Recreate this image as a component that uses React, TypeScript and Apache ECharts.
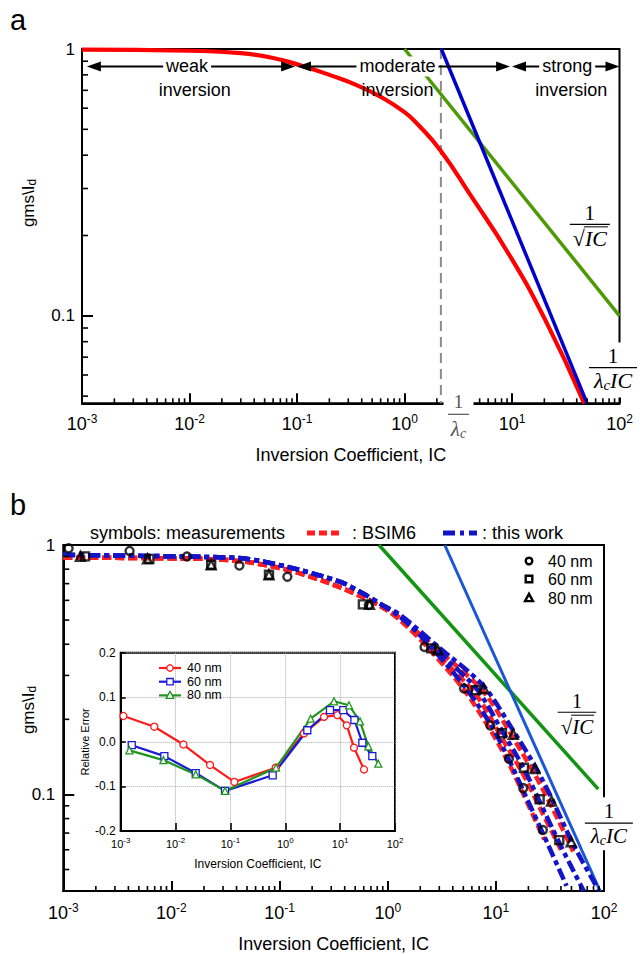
import React, { useEffect, useRef } from "react";
import * as echarts from "echarts";

const SANS = "'Liberation Sans', Arial, Helvetica, sans-serif";
const SERIF = "'Liberation Serif', 'Times New Roman', 'DejaVu Serif', serif";

// ---------- axis ranges ----------
const IC_MIN = 0.001;
const IC_MAX = 100;
const A_Y_MIN = 0.047;
const A_Y_MAX = 1;
const B_Y_MIN = 0.041;
const B_Y_MAX = 1;
const ERR_MIN = -0.2;
const ERR_MAX = 0.2;
const ERR_STEP = 0.1;

// decades that carry minor ticks (2..9 times the decade)
const xMinorDecades = [0.001, 0.01, 0.1, 1, 10];
const yMinorDecades = [0.01, 0.1];
const minorSteps = [2, 3, 4, 5, 6, 7, 8, 9];

// ---------- panel a ----------
const aGmCurve: [number, number][] = [
  [0.001, 0.995], [0.01, 0.985], [0.03, 0.965], [0.06, 0.925], [0.114, 0.862],
  [0.2, 0.8], [0.35, 0.735], [0.59, 0.664], [1, 0.58], [1.34, 0.52],
  [2.18, 0.415], [4.07, 0.285], [9.2, 0.172], [20, 0.098], [47, 0.047],
];
const aSqrtLine: [number, number][] = [[1, 1], [100, 0.1]];
const aLambdaLine: [number, number][] = [[2.2, 1], [50, 0.047]];
const aInvLambda = 2.18; // 1/lambda_c
const regionArrowLevel = 0.86;
const regionTextLevel = 0.703;
const regionArrows: [number, number][] = [[0.00111, 0.096], [0.1, 9.6], [10, 100]];
const regionWords = ["weak", "moderate", "strong"];
const regionWordIC = [0.0095, 0.86, 32.6];
const regionInvIC = [0.0112, 0.86, 35.5];

// ---------- panel b ----------
const bSqrtLine: [number, number][] = [[0.83, 1], [88.5, 0.105]];
const bLambdaLine: [number, number][] = [[3.37, 1], [92, 0.041]];

const bsim40: [number, number][] = [
  [0.001, 0.89], [0.02, 0.88], [0.049, 0.856], [0.117, 0.796], [0.28, 0.706], [0.57, 0.622],
  [0.87, 0.567], [1.3, 0.5], [2.2, 0.4], [5, 0.265], [9, 0.18], [13, 0.135], [18, 0.1], [28, 0.066],
];
const bsim60: [number, number][] = [
  [0.001, 0.89], [0.02, 0.88], [0.049, 0.856], [0.117, 0.796], [0.28, 0.706], [0.57, 0.622],
  [0.87, 0.567], [1.3, 0.505], [2.5, 0.385], [6.5, 0.252], [11.4, 0.168], [18, 0.12], [25, 0.09], [40, 0.06],
];
const bsim80: [number, number][] = [
  [0.001, 0.89], [0.02, 0.88], [0.049, 0.856], [0.117, 0.796], [0.28, 0.706], [0.57, 0.622],
  [0.87, 0.567], [1.3, 0.51], [2.9, 0.38], [7.7, 0.258], [14.5, 0.168], [23, 0.12], [33, 0.089], [52, 0.059],
];
const work40: [number, number][] = [
  [0.001, 0.913], [0.02, 0.896], [0.049, 0.88], [0.117, 0.818], [0.36, 0.713], [0.57, 0.645],
  [0.87, 0.578], [1.3, 0.515], [2.2, 0.415], [5, 0.275], [9, 0.19], [13, 0.14], [18, 0.103], [28, 0.068], [45, 0.043],
];
const work60: [number, number][] = [
  [0.001, 0.913], [0.02, 0.896], [0.049, 0.88], [0.117, 0.818], [0.36, 0.713], [0.57, 0.645],
  [0.87, 0.578], [1.3, 0.52], [2.5, 0.395], [6.5, 0.268], [11.4, 0.18], [18, 0.128], [25, 0.095], [40, 0.062], [65, 0.041],
];
const work80: [number, number][] = [
  [0.001, 0.913], [0.02, 0.896], [0.049, 0.88], [0.117, 0.818], [0.36, 0.713], [0.57, 0.645],
  [0.87, 0.578], [1.3, 0.525], [2.9, 0.392], [7.7, 0.272], [14.5, 0.18], [23, 0.13], [33, 0.096], [52, 0.063], [90, 0.041],
];

// measurements (shared IC for main plot and inset)
const ic40 = [0.00112, 0.0041, 0.0139, 0.0425, 0.118, 0.668, 2.19, 5.08, 8.9, 13.2, 17.9, 27.2];
const gm40 = [0.97, 0.947, 0.899, 0.827, 0.746, 0.575, 0.39, 0.266, 0.189, 0.139, 0.106, 0.072];
const err40 = [0.058, 0.034, -0.006, -0.052, -0.09, -0.058, 0.019, 0.056, 0.06, 0.037, -0.013, -0.062];
const ic60 = [0.00159, 0.00625, 0.0233, 0.0798, 0.589, 2.52, 6.53, 11.4, 18.2, 25.4, 38.6];
const gm60 = [0.9, 0.88, 0.833, 0.76, 0.578, 0.385, 0.262, 0.176, 0.128, 0.0957, 0.0656];
const err60 = [-0.0075, -0.032, -0.07, -0.11, -0.075, 0.026, 0.071, 0.071, 0.049, -0.002, -0.032];
const ic80 = [0.00144, 0.006, 0.0233, 0.0798, 0.678, 2.9, 7.73, 14.5, 23.0, 32.7, 49.7];
const gm80 = [0.9, 0.88, 0.833, 0.76, 0.578, 0.38, 0.266, 0.174, 0.127, 0.094, 0.0646];
const err80 = [-0.019, -0.041, -0.073, -0.11, -0.058, 0.052, 0.091, 0.082, 0.046, -0.01, -0.049];

const sizeNames = ["40 nm", "60 nm", "80 nm"];
const insetColors = ["#ff1a1a", "#1a1ad8", "#1f961f"];

// ---------- helpers ----------
const zip = (xs: number[], ys: number[]) => xs.map((x, i) => [x, ys[i]]);
const minorList = (decades: number[], lo: number, hi: number) => {
  const out: number[] = [];
  decades.forEach((d) => minorSteps.forEach((m) => {
    const v = d * m;
    if (v > lo && v < hi) out.push(v);
  }));
  return out;
};
const isDecade = (v: number) => {
  const l = Math.log10(v);
  return Math.abs(l - Math.round(l)) < 1e-6;
};

const supAxisLabel = (size: number, supSize: number, margin: number) => ({
  margin,
  formatter: (v: number) => (isDecade(v) ? `{b|10}{s|${Math.round(Math.log10(v))}}` : ""),
  rich: {
    b: { fontSize: size, fontFamily: SANS, color: "#000", lineHeight: size + 4 },
    s: { fontSize: supSize, fontFamily: SANS, color: "#000", lineHeight: supSize, verticalAlign: "top" },
  },
});

const decadeYLabel = (size: number, margin: number) => ({
  margin,
  fontSize: size,
  fontFamily: SANS,
  color: "#000",
  formatter: (v: number) => {
    if (!isDecade(v)) return "";
    const e = Math.round(Math.log10(v));
    return e === 0 ? "1" : String(Math.pow(10, e));
  },
});

const blackLine = { show: true, onZero: false, lineStyle: { color: "#000", width: 2 } };

const tickSeries = (idx: number, values: number[], dir: "x" | "y", fixed: number, len: number) => ({
  type: "custom",
  xAxisIndex: idx,
  yAxisIndex: idx,
  silent: true,
  z: 6,
  clip: false,
  data: values.map((v) => (dir === "x" ? [v, fixed] : [fixed, v])),
  encode: { x: 0, y: 1 },
  renderItem: (_p: any, api: any) => {
    const p = api.coord([api.value(0), api.value(1)]);
    return {
      type: "line",
      shape: dir === "x"
        ? { x1: p[0], y1: p[1], x2: p[0], y2: p[1] - len }
        : { x1: p[0], y1: p[1], x2: p[0] + len, y2: p[1] },
      style: { stroke: "#000", lineWidth: 1.6 },
    };
  },
});

function buildOption(): any {
  const aMinorX = minorList(xMinorDecades, IC_MIN, IC_MAX);
  const aMinorY = minorList(yMinorDecades, A_Y_MIN, A_Y_MAX);
  const bMinorY = minorList(yMinorDecades, B_Y_MIN, B_Y_MAX);

  const line = (idx: number, data: any, color: string, width: number, type: any = "solid", z = 3) => ({
    type: "line",
    xAxisIndex: idx,
    yAxisIndex: idx,
    data,
    showSymbol: false,
    symbol: "none",
    silent: true,
    z,
    lineStyle: { color, width, type, cap: "butt" },
  });

  const scatter = (data: any, symbol: string, size: number) => ({
    type: "scatter",
    xAxisIndex: 1,
    yAxisIndex: 1,
    data,
    symbol,
    symbolSize: size,
    silent: true,
    z: 5,
    itemStyle: { color: "rgba(0,0,0,0)", borderColor: "#000", borderWidth: 2.4 },
  });

  const insetLine = (name: string, data: any, color: string, symbol: string) => ({
    type: "line",
    name,
    xAxisIndex: 2,
    yAxisIndex: 2,
    data,
    symbol,
    symbolSize: 7,
    showSymbol: true,
    silent: true,
    z: 23,
    lineStyle: { color, width: 2.2 },
    itemStyle: { color: "#fff", borderColor: color, borderWidth: 1.3 },
  });

  return {
    animation: false,
    backgroundColor: "#fff",
    grid: [
      { left: 82, top: 49, width: 537.5, height: 354.3, show: true, borderColor: "#000", borderWidth: 2, backgroundColor: "transparent", z: 0 },
      { left: 63.3, top: 545, width: 540.7, height: 349, show: true, borderColor: "#000", borderWidth: 2, backgroundColor: "transparent", z: 0 },
      { left: 120.7, top: 652.7, width: 274.3, height: 178.3, show: true, borderColor: "#000", borderWidth: 2, backgroundColor: "#fff", z: 20 },
    ],
    xAxis: [
      {
        type: "log", logBase: 10, gridIndex: 0, min: IC_MIN, max: IC_MAX,
        axisLine: blackLine,
        axisTick: { show: true, inside: true, length: 10, lineStyle: { color: "#000", width: 2 } },
        axisLabel: supAxisLabel(18, 12, 10),
        splitLine: { show: false },
        name: "Inversion Coefficient, IC", nameLocation: "middle", nameGap: 43,
        nameTextStyle: { fontSize: 18, fontFamily: SANS, color: "#000" },
      },
      {
        type: "log", logBase: 10, gridIndex: 1, min: IC_MIN, max: IC_MAX,
        axisLine: blackLine,
        axisTick: { show: true, inside: true, length: 10, lineStyle: { color: "#000", width: 2 } },
        axisLabel: supAxisLabel(18, 12, 11),
        splitLine: { show: false },
        name: "Inversion Coefficient, IC", nameLocation: "middle", nameGap: 44,
        nameTextStyle: { fontSize: 18, fontFamily: SANS, color: "#000" },
      },
      {
        type: "log", logBase: 10, gridIndex: 2, min: IC_MIN, max: IC_MAX, z: 21,
        axisLine: blackLine,
        axisTick: { show: true, inside: true, length: 8, lineStyle: { color: "#000", width: 1.6 } },
        axisLabel: supAxisLabel(11, 8, 5),
        splitLine: { show: true, lineStyle: { color: "#aaa", type: "dotted", width: 1 } },
        name: "Inversion Coefficient, IC", nameLocation: "middle", nameGap: 27,
        nameTextStyle: { fontSize: 12, fontFamily: SANS, color: "#000" },
      },
    ],
    yAxis: [
      {
        type: "log", logBase: 10, gridIndex: 0, min: A_Y_MIN, max: A_Y_MAX,
        axisLine: blackLine,
        axisTick: { show: true, inside: true, length: 11, lineStyle: { color: "#000", width: 2 } },
        axisLabel: decadeYLabel(17, 7),
        splitLine: { show: false },
      },
      {
        type: "log", logBase: 10, gridIndex: 1, min: B_Y_MIN, max: B_Y_MAX,
        axisLine: blackLine,
        axisTick: { show: true, inside: true, length: 11, lineStyle: { color: "#000", width: 2 } },
        axisLabel: decadeYLabel(17, 8),
        splitLine: { show: false },
      },
      {
        type: "value", gridIndex: 2, min: ERR_MIN, max: ERR_MAX, interval: ERR_STEP, z: 21,
        axisLine: blackLine,
        axisTick: { show: true, inside: true, length: 5, lineStyle: { color: "#000", width: 1.6 } },
        axisLabel: {
          fontSize: 12, fontFamily: SANS, color: "#000", margin: 5,
          formatter: (v: number) => (Math.abs(v) < 1e-9 ? "0.0" : v.toFixed(1)),
        },
        splitLine: { show: true, lineStyle: { color: "#aaa", type: "dotted", width: 1 } },
        name: "Relative Error", nameLocation: "middle", nameGap: 30,
        nameTextStyle: { fontSize: 11, fontFamily: SANS, color: "#000" },
      },
    ],
    series: [
      // panel a
      line(0, [[aInvLambda, A_Y_MAX], [aInvLambda, A_Y_MIN]], "#8c8c8c", 2, [10, 6], 2),
      { ...line(0, aGmCurve, "#ff0000", 4.2), smooth: 0.5 },
      line(0, aSqrtLine, "#4e9a06", 3.5),
      line(0, aLambdaLine, "#0000cc", 3.5),
      tickSeries(0, aMinorX, "x", A_Y_MIN, 5),
      tickSeries(0, aMinorY, "y", IC_MIN, 6),
      // panel b
      line(1, bSqrtLine, "#139513", 3.5),
      line(1, bLambdaLine, "#1a56d6", 3),
      { ...line(1, bsim40, "#ff1f1f", 4.5, [9, 4]), smooth: 0.3 },
      { ...line(1, bsim60, "#ff1f1f", 4.5, [9, 4]), smooth: 0.3 },
      { ...line(1, bsim80, "#ff1f1f", 4.5, [9, 4]), smooth: 0.3 },
      { ...line(1, work40, "#1414c8", 4.5, [12, 4, 5, 4]), smooth: 0.3 },
      { ...line(1, work60, "#1414c8", 4.5, [12, 4, 5, 4]), smooth: 0.3 },
      { ...line(1, work80, "#1414c8", 4.5, [12, 4, 5, 4]), smooth: 0.3 },
      scatter(zip(ic40, gm40), "circle", 8),
      scatter(zip(ic60, gm60), "rect", 8),
      scatter(zip(ic80, gm80), "triangle", 9),
      tickSeries(1, aMinorX, "x", B_Y_MIN, 5),
      tickSeries(1, bMinorY, "y", IC_MIN, 6),
      // inset
      insetLine(sizeNames[0], zip(ic40, err40), insetColors[0], "circle"),
      insetLine(sizeNames[1], zip(ic60, err60), insetColors[1], "rect"),
      insetLine(sizeNames[2], zip(ic80, err80), insetColors[2], "triangle"),
    ],
  };
}

let measureCtx: CanvasRenderingContext2D | null = null;
const measure = (t: string, font: string) => {
  if (!measureCtx) measureCtx = document.createElement("canvas").getContext("2d");
  if (!measureCtx) return t.length * 10;
  measureCtx.font = font;
  return measureCtx.measureText(t).width;
};

function buildGraphics(chart: any): any[] {
  const P = (g: number, x: number, y: number) => chart.convertToPixel({ gridIndex: g }, [x, y]) as number[];
  const Z = 60;
  const els: any[] = [];
  const txt = (x: number, y: number, text: string, style: any = {}, extra: any = {}) => {
    els.push({
      type: "text", x, y, z: Z, silent: true, ...extra,
      style: { text, fill: "#000", fontSize: 18, fontFamily: SANS, align: "center", verticalAlign: "middle", ...style },
    });
  };
  const seg = (x1: number, y1: number, x2: number, y2: number, stroke = "#000", lineWidth = 2, z = Z) => {
    els.push({ type: "line", z, silent: true, shape: { x1, y1, x2, y2 }, style: { stroke, lineWidth } });
  };
  const whiteBox = (x: number, y: number, w: number, h: number) => {
    els.push({ type: "rect", z: Z - 1, silent: true, shape: { x, y, width: w, height: h }, style: { fill: "#fff" } });
  };

  // panel letters
  txt(10, 20, "a", { fontSize: 29, align: "left" });
  txt(10, 505, "b", { fontSize: 29, align: "left" });

  // y titles
  const yTitle = (x: number, y: number) => els.push({
    type: "text", x, y, z: Z, rotation: Math.PI / 2, silent: true,
    style: {
      text: "{a|gms\\I}{d|d}", align: "center", verticalAlign: "middle", fill: "#000",
      rich: {
        a: { fontSize: 17, fontFamily: SANS, fill: "#000", lineHeight: 20 },
        d: { fontSize: 12, fontFamily: SANS, fill: "#000", lineHeight: 12, verticalAlign: "bottom" },
      },
    },
  });
  yTitle(28, 203);
  yTitle(28, 710);

  // region arrows (panel a)
  const head = (tipX: number, y: number, dir: number) => {
    els.push({
      type: "polygon", z: Z, silent: true,
      shape: { points: [[tipX, y], [tipX - dir * 14, y - 5], [tipX - dir * 14, y + 5]] },
      style: { fill: "#000" },
    });
  };
  regionArrows.forEach(([from, to]) => {
    const a = P(0, from, regionArrowLevel);
    const b = P(0, to, regionArrowLevel);
    seg(a[0] + 8, a[1], b[0] - 8, b[1], "#000", 2);
    head(a[0], a[1], -1);
    head(b[0], b[1], 1);
  });
  regionWords.forEach((w, i) => {
    const p = P(0, regionWordIC[i], regionArrowLevel);
    txt(p[0], p[1], w, { backgroundColor: "#fff", padding: [1, 3] });
    const q = P(0, regionInvIC[i], regionTextLevel);
    txt(q[0], q[1], "inversion");
  });

  // fractions
  const serifIt = (size: number) => `italic ${size}px ${SERIF}`;
  const lambdaIC = (cx: number, cy: number, size: number, withIC: boolean, color = "#000") => {
    els.push({
      type: "text", x: cx, y: cy, z: Z, silent: true,
      style: {
        text: withIC ? "{l|λ}{s|c}{l|IC}" : "{l|λ}{s|c}", align: "center", verticalAlign: "middle", fill: color,
        rich: {
          l: { fontSize: size, fontFamily: SERIF, fontStyle: "italic", fill: color, lineHeight: size + 2 },
          s: { fontSize: Math.round(size * 0.68), fontFamily: SERIF, fontStyle: "italic", fill: color, lineHeight: 10, verticalAlign: "bottom" },
        },
      },
    });
  };
  const lambdaFrac = (cx: number, cy: number, size: number, halfW: number, boxTop: number, boxBottom: number) => {
    whiteBox(cx - halfW - 2, boxTop, 2 * halfW + 4, boxBottom - boxTop);
    txt(cx, cy - 12, "1", { fontSize: size - 1, fontFamily: SERIF });
    seg(cx - halfW, cy, cx + halfW, cy, "#000", 1.2);
    lambdaIC(cx, cy + 13, size, true);
  };
  const sqrtFrac = (cx: number, cy: number, size: number) => {
    const icW = measure("IC", serifIt(size));
    const rootW = measure("√", `${size}px ${SERIF}`);
    const total = rootW + icW;
    const left = cx - total / 2;
    const dy = cy + 14.5;
    txt(cx, cy - 11.5, "1", { fontSize: size - 1, fontFamily: SERIF });
    seg(left - 3, cy, left + total + 3, cy, "#000", 1.2);
    txt(left, dy, "√", { fontSize: size, fontFamily: SERIF, align: "left" });
    txt(left + rootW, dy, "IC", { fontSize: size, fontFamily: SERIF, fontStyle: "italic", align: "left" });
    seg(left + rootW - 1, dy - size * 0.55, left + total + 1, dy - size * 0.55, "#000", 1);
  };

  // panel a labels
  {
    const s = P(0, 53, 0.22);
    sqrtFrac(s[0], s[1], 22);
    const l = P(0, 87, 0.064);
    lambdaFrac(l[0], l[1], 22, 24, l[1] - 25, l[1] + 30);
    const c = P(0, 3.18, A_Y_MIN);
    const cy = c[1] + 11;
    whiteBox(c[0] - 15, c[1] - 8, 30, 45);
    txt(c[0], cy - 12.5, "1", { fontSize: 19, fontFamily: SERIF, fill: "#555" });
    seg(c[0] - 10.5, cy, c[0] + 10.5, cy, "#555", 1.2);
    lambdaIC(c[0], cy + 15, 21, false, "#555");
  }
  // panel b labels
  {
    const s = P(1, 56.2, 0.2135);
    sqrtFrac(s[0], s[1], 21);
    const l = P(1, 111, 0.0767);
    lambdaFrac(l[0], l[1], 21, 24, l[1] - 26, l[1] + 27);
  }

  // panel b top legend
  txt(90, 533, "symbols: measurements", { align: "left" });
  els.push({ type: "line", z: Z, silent: true, shape: { x1: 307, y1: 533, x2: 340, y2: 533 }, style: { stroke: "#ff1f1f", lineWidth: 5, lineDash: [8, 4] } });
  txt(352, 533, ": BSIM6", { align: "left" });
  els.push({ type: "line", z: Z, silent: true, shape: { x1: 443, y1: 533, x2: 477, y2: 533 }, style: { stroke: "#1414c8", lineWidth: 5, lineDash: [12, 5, 4, 5] } });
  txt(482, 533, ": this work", { align: "left" });

  // panel b marker legend
  const mk = (kind: string, cx: number, cy: number, r: number, stroke: string, lw: number, fill: string, z = Z) => {
    if (kind === "circle") els.push({ type: "circle", z, silent: true, shape: { cx, cy, r }, style: { fill, stroke, lineWidth: lw } });
    else if (kind === "rect") els.push({ type: "rect", z, silent: true, shape: { x: cx - r, y: cy - r, width: 2 * r, height: 2 * r }, style: { fill, stroke, lineWidth: lw } });
    else els.push({ type: "polygon", z, silent: true, shape: { points: [[cx, cy - r * 1.25], [cx - r * 1.2, cy + r * 0.95], [cx + r * 1.2, cy + r * 0.95]] }, style: { fill, stroke, lineWidth: lw } });
  };
  const kinds = ["circle", "rect", "triangle"];
  const legY = [561, 579, 598];
  kinds.forEach((k, i) => {
    mk(k, 529, legY[i], 3.3, "#000", 2.4, "rgba(0,0,0,0)");
    txt(548, legY[i], sizeNames[i], { align: "left", fontSize: 16 });
  });

  // inset legend
  const inY = [668, 681.7, 695.4];
  kinds.forEach((k, i) => {
    seg(159, inY[i], 181, inY[i], insetColors[i], 2.2, Z + 1);
    mk(k, 170, inY[i], 3.2, insetColors[i], 1.3, "#fff", Z + 2);
    txt(187, inY[i], sizeNames[i], { align: "left", fontSize: 12.5 });
  });

  return els;
}

export default function App() {
  const ref = useRef<HTMLDivElement>(null);
  useEffect(() => {
    if (!ref.current) return;
    const chart = echarts.init(ref.current, undefined, { renderer: "svg" });
    chart.setOption(buildOption());
    chart.setOption({ graphic: buildGraphics(chart) });
    return () => chart.dispose();
  }, []);
  return (
    <div
      ref={ref}
      style={{ position: "fixed", left: 0, top: 0, width: 643, height: 954, background: "#fff" }}
    />
  );
}
